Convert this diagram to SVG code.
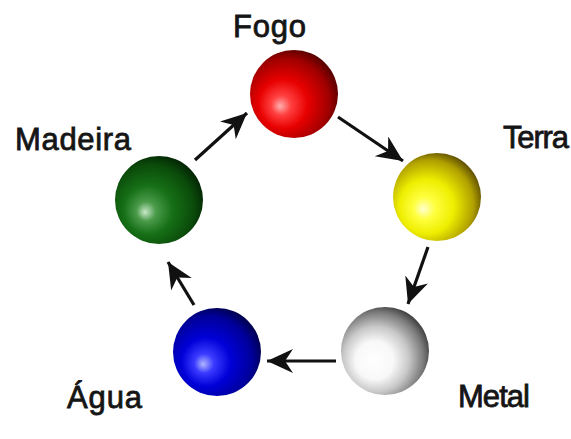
<svg xmlns="http://www.w3.org/2000/svg" width="571" height="439" viewBox="0 0 571 439">
<style>
.lbl{font-family:"Liberation Sans",Arial,sans-serif;font-size:31px;fill:#151515;stroke:#151515;stroke-width:0.8}
.conn{stroke:#111;stroke-width:3.2;fill:none}
</style>
<defs>
<marker id="ah" markerUnits="userSpaceOnUse" markerWidth="28" markerHeight="26" refX="26" refY="12" orient="auto" viewBox="0 0 28 26">
<path d="M0,0 L26,12 L0,24 L8,12 Z" fill="#111"/>
</marker>
<radialGradient id="gRed" cx="0.42" cy="0.58" r="0.62" fx="0.34" fy="0.64">
<stop offset="0" stop-color="#ffb0b0"/>
<stop offset="0.18" stop-color="#ff4040"/>
<stop offset="0.45" stop-color="#e80000"/>
<stop offset="0.8" stop-color="#a00000"/>
<stop offset="1" stop-color="#500000"/>
</radialGradient>
<radialGradient id="gGreen" cx="0.42" cy="0.58" r="0.62" fx="0.34" fy="0.64">
<stop offset="0" stop-color="#c8e8c8"/>
<stop offset="0.18" stop-color="#4a9a4a"/>
<stop offset="0.45" stop-color="#167016"/>
<stop offset="0.8" stop-color="#0a4a0a"/>
<stop offset="1" stop-color="#032203"/>
</radialGradient>
<radialGradient id="gYellow" cx="0.42" cy="0.58" r="0.62" fx="0.34" fy="0.64">
<stop offset="0" stop-color="#ffffd0"/>
<stop offset="0.2" stop-color="#ffff40"/>
<stop offset="0.5" stop-color="#eeee00"/>
<stop offset="0.82" stop-color="#b0a000"/>
<stop offset="1" stop-color="#5a4a00"/>
</radialGradient>
<radialGradient id="gBlue" cx="0.42" cy="0.58" r="0.62" fx="0.34" fy="0.64">
<stop offset="0" stop-color="#b0b8ff"/>
<stop offset="0.18" stop-color="#3a3aff"/>
<stop offset="0.45" stop-color="#0000d8"/>
<stop offset="0.8" stop-color="#00009a"/>
<stop offset="1" stop-color="#000048"/>
</radialGradient>
<radialGradient id="gWhite" cx="0.42" cy="0.58" r="0.62" fx="0.36" fy="0.62">
<stop offset="0" stop-color="#ffffff"/>
<stop offset="0.35" stop-color="#f8f8f8"/>
<stop offset="0.6" stop-color="#c8c8c8"/>
<stop offset="0.85" stop-color="#7a7a7a"/>
<stop offset="1" stop-color="#3a3a3a"/>
</radialGradient>
</defs>
<rect width="571" height="439" fill="#fff"/>
<g id="connectors">
<line class="conn" x1="195" y1="160" x2="247" y2="113" marker-end="url(#ah)"/>
<line class="conn" x1="338" y1="117" x2="403" y2="161" marker-end="url(#ah)"/>
<line class="conn" x1="428" y1="247" x2="408" y2="304" marker-end="url(#ah)"/>
<line class="conn" x1="336" y1="361" x2="267" y2="361" marker-end="url(#ah)"/>
<line class="conn" x1="194" y1="305" x2="168" y2="262" marker-end="url(#ah)"/>
</g>
<g id="fogo">
<circle cx="294" cy="94" r="44" fill="url(#gRed)"/>
<text class="lbl" x="233" y="37" textLength="73">Fogo</text>
</g>
<g id="terra">
<circle cx="437" cy="197" r="44" fill="url(#gYellow)"/>
<text class="lbl" x="503" y="148" textLength="66">Terra</text>
</g>
<g id="metal">
<circle cx="385" cy="351" r="44" fill="url(#gWhite)"/>
<text class="lbl" x="458" y="407" textLength="72">Metal</text>
</g>
<g id="agua">
<circle cx="217" cy="352" r="44" fill="url(#gBlue)"/>
<text class="lbl" x="67" y="408" textLength="75">Água</text>
</g>
<g id="madeira">
<circle cx="159" cy="200" r="44" fill="url(#gGreen)"/>
<text class="lbl" x="15" y="150" textLength="116">Madeira</text>
</g>
</svg>
